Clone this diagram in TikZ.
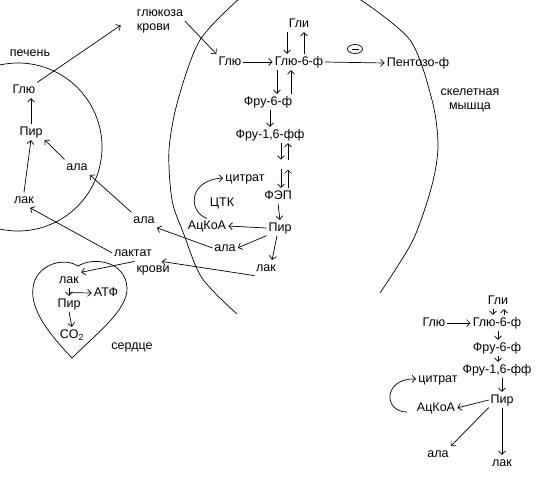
\documentclass[tikz,border=0pt]{standalone}
\usepackage{fontspec}
\setmainfont{Liberation Sans}
\usetikzlibrary{arrows.meta,shapes.geometric,positioning}
\tikzset{
  lbl/.style={inner sep=1.5pt,text height=9pt,text depth=2.5pt,font=\fontsize{12.5}{14}\selectfont},
  lbl2/.style={inner sep=1.5pt,font=\fontsize{12.5}{14}\selectfont},
  arr/.style={-{Straight Barb[length=3.5pt,width=7pt]},shorten >=.5pt},
}

\begin{document}
\begin{tikzpicture}[x=1pt,y=-1pt,line width=.7pt]
      \useasboundingbox (0,0) rectangle (552,488);
      \clip (0,0) rectangle (552,488);

      % liver, heart, muscle
      \draw (18,147) circle[radius=84pt];
      \draw (72,358) .. controls (50,335) and (30,310) .. (33,288)
            .. controls (35,266) and (62,256) .. (78,266)
            .. controls (95,256) and (126,262) .. (127,288)
            .. controls (128,310) and (95,335) .. (72,358);
      \draw plot[smooth] coordinates {(240,-2) (200,40) (178,100) (169,150) (172,200) (183,232) (202,278) (237,314)};
      \draw plot[smooth] coordinates {(358,-2) (410,40) (432,100) (438,145) (432,185) (413,240) (380,293)};

      \node[lbl] (lvr) at (30,53) {печень};
      \node[lbl] (lglu) at (24,90) {Глю};
      \node[lbl] (lpir) at (31,132) {Пир};
      \node[lbl] (lala) at (77,167) {ала};
      \node[lbl] (llak) at (24,200) {лак};

      \node[lbl2,align=left] (gk) at (160,21) {глюкоза\\крови};
      \node[lbl] (ala2) at (144,220) {ала};
      \node[lbl] (lkt) at (133,253) {лактат};
      \node[lbl] (lkr) at (153,269) {крови};

      \node[lbl] (hlak) at (69,280) {лак};
      \node[lbl] (hatf) at (106,293) {АТФ};
      \node[lbl] (hpir) at (69,304) {Пир};
      \node[lbl] (hco) at (72,335) {CO\textsubscript{2}};
      \node[lbl] (srd) at (132,346) {сердце};

      \node[lbl] (mgli) at (299,24) {Гли};
      \node[lbl] (mglu) at (230,62) {Глю};
      \node[lbl] (mg6) at (299,62) {Глю-6-ф};
      \node[lbl] (mf6) at (268,102) {Фру-6-ф};
      \node[lbl] (mf16) at (270,135) {Фру-1,6-фф};
      \node[draw,ellipse,inner sep=0pt,minimum width=15pt,minimum height=9pt] (inh) at (355,49) {};
      \node[lbl] (pent) at (418,63) {Пентозо-ф};
      \node[lbl2,align=center] (skm) at (470,100) {скелетная\\мышца};
      \node[lbl] (cit) at (245,178) {цитрат};
      \node[lbl] (ctk) at (222,203) {ЦТК};
      \node[lbl] (fep) at (278,196) {ФЭП};
      \node[lbl] (acoa) at (207,226) {АцКоА};
      \node[lbl] (mpir) at (280,228) {Пир};
      \node[lbl] (mala) at (225,248) {ала};
      \node[lbl] (mlak) at (266,268) {лак};
      \coordinate (ga) at (281,160);
      \coordinate (gb) at (288,160);
      \coordinate (gc) at (281,169);
      \coordinate (gd) at (288,169);

      \node[lbl] (gli2) at (498,301) {Гли};
      \node[lbl] (glu2) at (434,323) {Глю};
      \node[lbl] (g62) at (497,323) {Глю-6-ф};
      \node[lbl] (f62) at (497,348) {Фру-6-ф};
      \node[lbl] (f162) at (497,370) {Фру-1,6-фф};
      \node[lbl] (pir2) at (502,400) {Пир};
      \node[lbl] (cit2) at (438,379) {цитрат};
      \node[lbl] (aco2) at (436,408) {АцКоА};
      \node[lbl] (ala3) at (438,454) {ала};
      \node[lbl] (lak3) at (502,463) {лак};

      % liver
      \draw[arr] (lglu.north east) -- ([shift={(-14pt,-4pt)}]gk.west);
      \draw[arr] (lpir.north) -- (lpir.north |- lglu.south);
      \draw[arr] (llak.north) -- (lpir.south);
      \draw[arr] (lala.north west) -- (lpir.south east);
      \draw[arr] (ala2.north west) -- (lala.south east);
      \draw[arr] (lkt.west) -- ([xshift=-6pt]llak.south east);

      % blood
      \draw[arr] (mala.west) -- (ala2.south east);
      \draw[arr] (mlak.south west) -- ([xshift=-10pt]lkr.north east);
      \draw[arr] (lkr.north west) -- (hlak.north east);

      % heart
      \draw[arr] (hlak.south) -- (hpir.north);
      \draw[arr] ([yshift=-5pt]hlak.south) -- (hatf.west);
      \draw[arr] (hpir.south) -- (hco.north);

      % muscle
      \draw[arr] (gk.east) -- (mglu.north west);
      \draw[arr] (mglu.east) -- (mg6.west);
      \draw[arr] ([xshift=-12pt]mgli.south) -- ([xshift=-12pt]mgli.south |- mg6.north);
      \draw[arr] ([xshift=5pt]mgli.south |- mg6.north) -- ([xshift=5pt]mgli.south);
      \draw[arr] ([xshift=-22pt]mg6.south) -- ([xshift=-22pt]mg6.south |- mf6.north);
      \draw[arr] ([xshift=-8pt]mg6.south |- mf6.north) -- ([xshift=-8pt]mg6.south);
      \draw[arr] ([xshift=2pt]mf6.south) -- ([xshift=2pt]mf6.south |- mf16.north);
      \draw[arr] (ga |- mf16.south) -- (ga);
      \draw[arr] (gb) -- (gb |- mf16.south);
      \draw[arr] (gc) -- (gc |- fep.north);
      \draw[arr] (gd |- fep.north) -- (gd);
      \draw[arr] (fep.south) -- (mpir.north);
      \draw[arr] (mpir.west) -- (acoa.east);
      \draw[arr] (mpir.south west) -- (mala.east);
      \draw[arr] ([xshift=-3pt]mpir.south) -- ([xshift=6pt]mlak.north);
      \draw[arr] (acoa.north) .. controls (188,212) and (188,180) .. (cit.west);
      \draw[arr] (mg6.east) -- (pent.west);
      \draw ([xshift=-3.5pt]inh.center) -- ([xshift=3.5pt]inh.center);

      % bottom right
      \draw[arr] ([xshift=-5pt]gli2.south) -- ([xshift=-5pt]gli2.south |- g62.north);
      \draw[arr] ([xshift=6pt]gli2.south |- g62.north) -- ([xshift=6pt]gli2.south);
      \draw[arr] (glu2.east) -- (g62.west);
      \draw[arr] ([xshift=1pt]g62.south) -- ([xshift=1pt]f62.north);
      \draw[arr] ([xshift=1pt]f62.south) -- ([xshift=1pt]f162.north);
      \draw[arr] ([xshift=5pt]f162.south) -- (pir2.north);
      \draw[arr] (pir2.west) -- (aco2.east);
      \draw[arr] (pir2.south west) -- (ala3.north east);
      \draw[arr] (pir2.south) -- (lak3.north);
      \draw[arr] ([shift={(-8pt,-4pt)}]aco2.west) .. controls (383,412) and (383,378) .. (cit2.west);
    \end{tikzpicture}
\end{document}
